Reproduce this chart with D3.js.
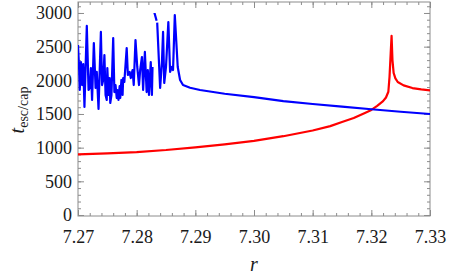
<!DOCTYPE html>
<html>
<head>
<meta charset="utf-8">
<script src="https://cdn.jsdelivr.net/npm/d3@7"></script>
<style>
  body { margin: 0; background: #fff; }
  .chart text { font-family: 'Liberation Serif' !important; fill: #1a1a1a; }
</style>
</head>
<body>
<svg class="chart" width="449" height="279"></svg>
<script>
// blue: t_esc (chaotic region, gaps marked with null)
const blueR = [7.2700, 7.2702, 7.2703, 7.2705, 7.2707, 7.2709, 7.2711, 7.2715, 7.2718, 7.2720,
  7.2722, 7.2724, 7.2727, 7.2730, 7.2732, 7.2735, 7.2739, 7.2741, 7.2743, 7.2745,
  7.2747, 7.2749, 7.2750, 7.2752, 7.2754, 7.2755, 7.2757, 7.2760, 7.2762, 7.2764,
  7.2766, 7.2767, 7.2769, 7.2771, 7.2772, 7.2774, 7.2776, 7.2777, 7.2779, 7.2783,
  7.2785, 7.2788, 7.2790, 7.2793, 7.2795, 7.2798, 7.2801, 7.2804, 7.2806, 7.2809,
  7.2811, 7.2814, 7.2817, 7.2819, 7.2821, 7.2824, 7.2826, 7.2827, 7.2828,
  7.2829, 7.2834, 7.28345,
  7.2835, 7.2840, 7.2843, 7.2845, 7.2847, 7.2850, 7.2854, 7.2857, 7.2860, 7.2862,
  7.2865, 7.2870, 7.2874, 7.2879, 7.2891, 7.2908, 7.2950, 7.3000, 7.3050, 7.3100,
  7.3150, 7.3200, 7.3250, 7.3300];
const blueT = [2525, 2153, 1856, 2272, 1930, 2242, 1604, 2807, 1856, 1886,
  2183, 1708, 2554, 1886, 2124, 1574, 2718, 1930, 2005, 2376,
  1782, 1708, 2183, 1782, 2034, 1663, 1782, 2628, 1826, 1930,
  1737, 1856, 1708, 1915, 1737, 2005, 1782, 2034, 1975, 2480,
  2079, 2124, 2034, 2153, 1930, 2599, 2198, 1930, 2153, 2346,
  1856, 2421, 1826, 2153, 1782, 2272, 1782, 2198, null,
  3044, 2885, null,
  2856, 1886, 2257, 2718, 1960, 2198, 2866, 2124, 2198, 2153,
  2970, 2198, 2005, 1930, 1890, 1856, 1800, 1750, 1690, 1648,
  1608, 1570, 1533, 1500];

// red: t_cap
const redR = [7.2700, 7.2750, 7.2800, 7.2850, 7.2900, 7.2950, 7.3000, 7.3050, 7.3100, 7.3130,
  7.3150, 7.3170, 7.3190, 7.3200, 7.3210, 7.3220, 7.3225, 7.3229, 7.3231, 7.3233,
  7.32345, 7.3236, 7.3238, 7.3241, 7.3245, 7.3255, 7.3270, 7.3285, 7.3300];
const redT = [900, 915, 935, 965, 1005, 1050, 1100, 1170, 1255, 1320,
  1380, 1440, 1520, 1560, 1620, 1690, 1745, 1830, 2050, 2400,
  2660, 2300, 2110, 2030, 1975, 1925, 1885, 1865, 1850];

const xTicks = [7.27, 7.28, 7.29, 7.30, 7.31, 7.32, 7.33];
const yTicks = [0, 500, 1000, 1500, 2000, 2500, 3000];

const svg = d3.select(".chart");
const plotLeft = 78, plotRight = 430, plotTop = 2, plotBottom = 216;

const x = d3.scaleLinear().domain([7.27, 7.33]).range([plotLeft, plotRight]);
const y = d3.scaleLinear().domain([-15, 3163]).range([plotBottom, plotTop]);

const frameColor = "#8c8c8c";

// clip at plot range 0..3000
svg.append("clipPath").attr("id", "clip")
  .append("rect")
  .attr("x", plotLeft).attr("y", y(3000))
  .attr("width", plotRight - plotLeft).attr("height", y(0) - y(3000));

const minorX = d3.range(7.27, 7.3301, 0.002).map((d) => +d.toFixed(3));
const minorY = d3.range(0, 3101, 100);

function styleAxis(g) {
  g.select(".domain").remove();
  g.selectAll("line").attr("stroke", frameColor);
}

/*
      Frame ticks
*/
svg.append("g").attr("transform", `translate(0,${plotBottom})`)
  .call(d3.axisBottom(x).tickValues(minorX).tickSize(-3).tickFormat(""))
  .call(styleAxis);
svg.append("g").attr("transform", `translate(0,${plotBottom})`)
  .call(d3.axisBottom(x).tickValues(xTicks).tickSize(-6).tickPadding(14).tickFormat(d3.format(".2f")))
  .call(styleAxis)
  .selectAll("text").attr("font-size", 18);
svg.append("g").attr("transform", `translate(0,${plotTop})`)
  .call(d3.axisTop(x).tickValues(minorX).tickSize(-3).tickFormat(""))
  .call(styleAxis);
svg.append("g").attr("transform", `translate(0,${plotTop})`)
  .call(d3.axisTop(x).tickValues(xTicks).tickSize(-6).tickFormat(""))
  .call(styleAxis);

svg.append("g").attr("transform", `translate(${plotLeft},0)`)
  .call(d3.axisLeft(y).tickValues(minorY).tickSize(-3).tickFormat(""))
  .call(styleAxis);
svg.append("g").attr("transform", `translate(${plotLeft},0)`)
  .call(d3.axisLeft(y).tickValues(yTicks).tickSize(-6).tickPadding(6).tickFormat(d3.format("d")))
  .call(styleAxis)
  .selectAll("text").attr("font-size", 18);
svg.append("g").attr("transform", `translate(${plotRight},0)`)
  .call(d3.axisRight(y).tickValues(minorY).tickSize(-3).tickFormat(""))
  .call(styleAxis);
svg.append("g").attr("transform", `translate(${plotRight},0)`)
  .call(d3.axisRight(y).tickValues(yTicks).tickSize(-6).tickFormat(""))
  .call(styleAxis);

svg.append("rect")
  .attr("x", plotLeft).attr("y", plotTop)
  .attr("width", plotRight - plotLeft).attr("height", plotBottom - plotTop)
  .attr("fill", "none").attr("stroke", frameColor).attr("stroke-width", 1);

/*
      Curves
*/
const line = d3.line()
  .defined((d) => d[1] !== null)
  .x((d) => x(d[0]))
  .y((d) => y(d[1]));

const plot = svg.append("g").attr("clip-path", "url(#clip)");

plot.append("path")
  .datum(redR.map((r, i) => [r, redT[i]]))
  .attr("d", line)
  .attr("fill", "none").attr("stroke", "#ff0000").attr("stroke-width", 2.2)
  .attr("stroke-linejoin", "round");

plot.append("path")
  .datum(blueR.map((r, i) => [r, blueT[i]]))
  .attr("d", line)
  .attr("fill", "none").attr("stroke", "#0000ff").attr("stroke-width", 2.2)
  .attr("stroke-linejoin", "round");

/*
      Axis labels
*/
svg.append("text")
  .attr("x", (plotLeft + plotRight) / 2).attr("y", 271)
  .attr("text-anchor", "middle").attr("font-size", 20).attr("font-style", "italic")
  .text("r");

const yl = svg.append("text")
  .attr("transform", "translate(24,110) rotate(-90)")
  .attr("text-anchor", "middle").attr("font-size", 20);
yl.append("tspan").attr("font-style", "italic").text("t");
yl.append("tspan").attr("font-size", 14).attr("dy", 4).text("esc/cap");
</script>
</body>
</html>
